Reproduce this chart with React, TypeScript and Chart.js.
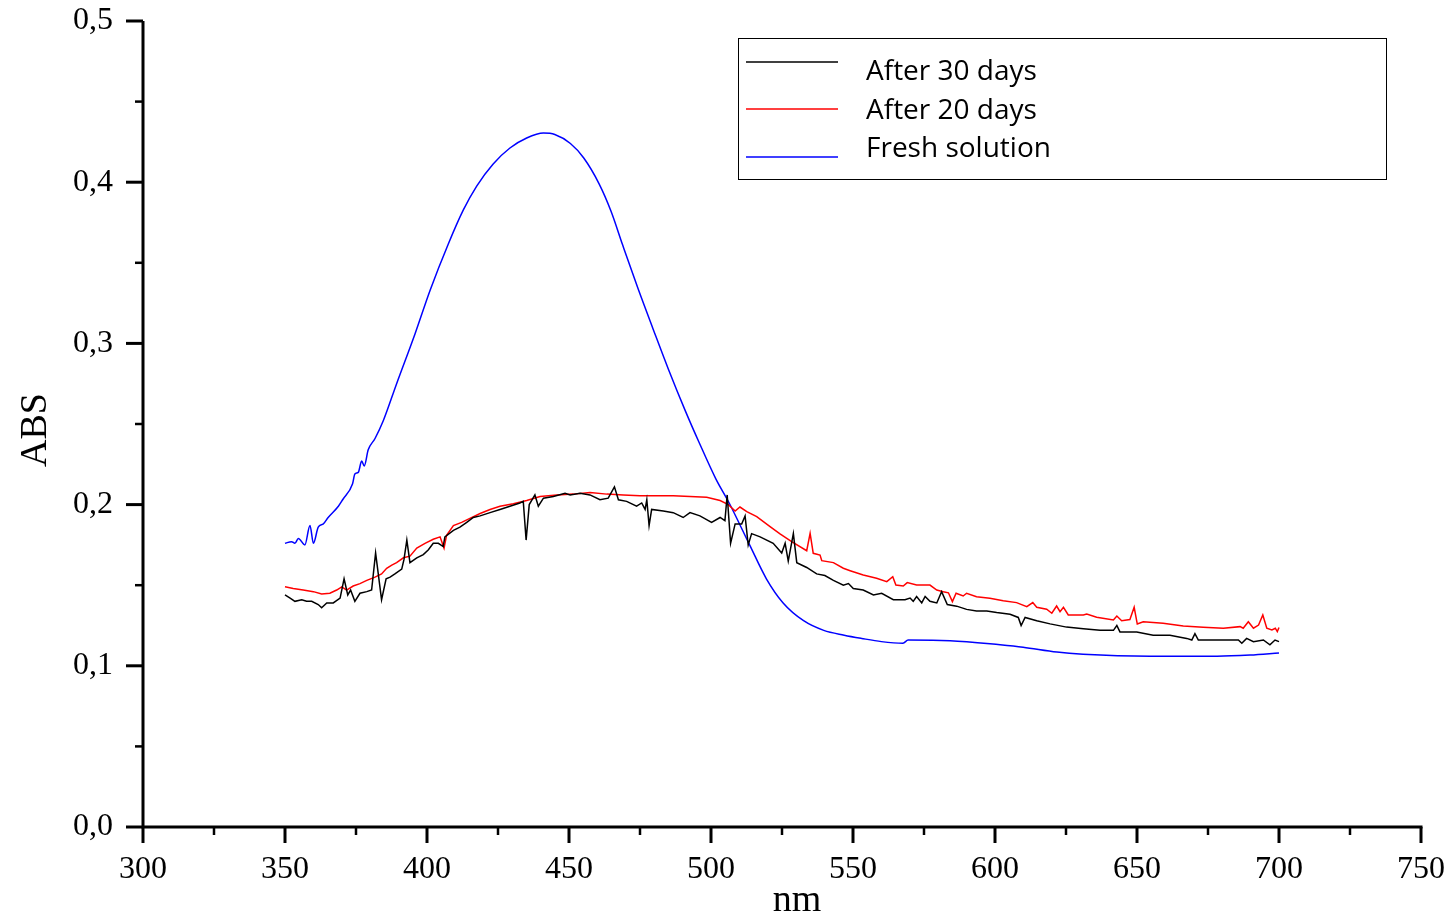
import { useEffect, useRef } from 'react';
import { Chart, registerables } from 'chart.js';

Chart.register(...registerables);

// ---- Data ----
const freshNm = [350.0, 352.3, 353.5, 354.7, 357.0, 358.8, 360.0, 361.7, 363.5, 365.2, 368.8, 370.3, 373.8, 374.6, 375.8, 377.0, 377.9, 379.3, 381.7, 384.6, 389.3, 395.8, 401.1, 407.5, 412.8, 417.5, 423.3, 429.2, 435.1, 441.0, 445.0, 450.5, 455.2, 460.6, 464.8, 468.9, 474.3, 479.6, 485.0, 491.0, 495.7, 501.7, 506.4, 513.6, 519.5, 525.4, 532.6, 539.7, 546.9, 553.0, 560.0, 567.6, 569.4, 584.2, 601.8, 609.9, 621.8, 631.0, 654.6, 678.2, 689.8, 700.0];
const freshAbs = [0.176, 0.177, 0.176, 0.179, 0.175, 0.187, 0.176, 0.186, 0.188, 0.192, 0.199, 0.203, 0.213, 0.219, 0.220, 0.227, 0.224, 0.234, 0.241, 0.252, 0.275, 0.306, 0.333, 0.3617, 0.3828, 0.3976, 0.4113, 0.4212, 0.4274, 0.4305, 0.4296, 0.424, 0.415, 0.399, 0.382, 0.361, 0.334, 0.309, 0.284, 0.258, 0.239, 0.216, 0.201, 0.175, 0.154, 0.139, 0.128, 0.122, 0.119, 0.117, 0.115, 0.114, 0.116, 0.1156, 0.113, 0.1115, 0.1085, 0.1072, 0.106, 0.106, 0.1067, 0.108];

const day30Nm = [350.0, 351.8, 353.5, 355.9, 357.6, 359.4, 361.7, 362.9, 364.7, 367.0, 369.4, 370.8, 372.1, 373.1, 374.6, 376.4, 378.8, 380.5, 381.9, 384.0, 385.6, 387.0, 388.7, 391.1, 391.9, 392.9, 394.0, 396.4, 398.7, 400.5, 402.2, 404.0, 405.7, 406.3, 409.3, 411.6, 414.0, 416.3, 418.7, 422.2, 425.7, 429.2, 432.7, 433.9, 434.9, 436.0, 438.0, 439.2, 441.0, 444.5, 448.6, 450.4, 453.9, 457.4, 460.9, 463.8, 466.0, 467.4, 470.3, 473.8, 475.6, 476.8, 477.4, 478.2, 479.1, 483.2, 486.7, 490.2, 492.6, 496.1, 500.2, 503.2, 504.9, 505.7, 506.9, 508.5, 510.8, 512.0, 513.1, 514.3, 517.3, 521.9, 524.9, 526.1, 527.2, 529.0, 530.2, 533.7, 537.2, 540.1, 543.1, 546.6, 548.4, 550.1, 553.6, 557.2, 560.1, 564.2, 568.3, 570.1, 571.2, 572.4, 574.2, 575.4, 577.1, 579.5, 581.2, 583.2, 586.5, 590.0, 593.5, 597.1, 600.6, 605.3, 608.2, 609.2, 610.6, 614.7, 619.4, 625.2, 631.1, 637.0, 641.7, 642.9, 644.0, 649.9, 655.7, 661.6, 667.5, 669.3, 670.4, 671.6, 675.7, 681.6, 685.7, 686.9, 688.6, 691.0, 694.5, 696.8, 698.6, 700.0];
const day30Abs = [0.144, 0.142, 0.140, 0.141, 0.140, 0.140, 0.138, 0.136, 0.139, 0.139, 0.142, 0.154, 0.144, 0.147, 0.140, 0.145, 0.146, 0.147, 0.170, 0.141, 0.154, 0.155, 0.157, 0.160, 0.166, 0.178, 0.164, 0.167, 0.169, 0.172, 0.176, 0.176, 0.174, 0.180, 0.184, 0.186, 0.189, 0.192, 0.193, 0.195, 0.197, 0.199, 0.201, 0.202, 0.178, 0.200, 0.206, 0.199, 0.204, 0.205, 0.207, 0.206, 0.207, 0.206, 0.203, 0.204, 0.211, 0.203, 0.202, 0.199, 0.201, 0.197, 0.203, 0.187, 0.197, 0.196, 0.195, 0.192, 0.195, 0.193, 0.189, 0.192, 0.190, 0.206, 0.176, 0.188, 0.188, 0.193, 0.175, 0.182, 0.180, 0.176, 0.170, 0.176, 0.165, 0.182, 0.164, 0.161, 0.157, 0.156, 0.153, 0.150, 0.151, 0.148, 0.147, 0.144, 0.145, 0.141, 0.141, 0.142, 0.140, 0.143, 0.139, 0.143, 0.140, 0.139, 0.146, 0.138, 0.137, 0.135, 0.134, 0.134, 0.133, 0.132, 0.130, 0.125, 0.130, 0.128, 0.126, 0.124, 0.123, 0.122, 0.122, 0.125, 0.121, 0.121, 0.119, 0.119, 0.117, 0.116, 0.120, 0.116, 0.116, 0.116, 0.116, 0.114, 0.117, 0.115, 0.116, 0.113, 0.116, 0.115];

const day20Nm = [350.0, 352.9, 356.4, 360.0, 362.9, 365.8, 368.2, 370.0, 371.7, 374.0, 376.4, 378.8, 381.7, 384.0, 385.8, 387.6, 389.3, 391.7, 394.0, 396.4, 399.3, 402.2, 404.6, 406.0, 406.9, 409.3, 412.2, 415.1, 418.7, 422.2, 425.7, 430.4, 435.1, 439.8, 445.7, 451.5, 457.4, 463.3, 469.1, 475.0, 480.9, 486.7, 492.6, 498.5, 503.2, 506.1, 508.5, 510.2, 512.6, 516.1, 520.8, 524.3, 528.4, 533.7, 534.9, 536.0, 538.4, 539.0, 543.1, 546.6, 549.0, 553.6, 558.3, 561.9, 564.0, 565.1, 567.7, 569.1, 572.4, 577.1, 579.5, 581.8, 583.6, 585.0, 586.3, 588.8, 590.0, 593.5, 598.2, 602.9, 607.6, 611.2, 613.3, 614.7, 618.2, 620.0, 621.7, 622.9, 624.1, 625.8, 631.1, 632.3, 635.8, 641.7, 642.9, 644.6, 647.5, 649.0, 650.1, 652.2, 659.2, 666.3, 673.3, 680.4, 686.3, 687.4, 689.2, 691.0, 692.8, 694.3, 695.7, 697.5, 698.7, 699.4, 700.0];
const day20Abs = [0.149, 0.148, 0.147, 0.146, 0.1445, 0.145, 0.147, 0.149, 0.147, 0.1495, 0.151, 0.153, 0.155, 0.157, 0.1605, 0.1625, 0.164, 0.167, 0.168, 0.173, 0.176, 0.1785, 0.180, 0.173, 0.181, 0.187, 0.189, 0.1915, 0.1945, 0.197, 0.199, 0.2005, 0.2025, 0.205, 0.206, 0.2065, 0.2075, 0.2065, 0.206, 0.2055, 0.2055, 0.2055, 0.205, 0.2045, 0.2025, 0.200, 0.196, 0.1985, 0.1956, 0.1925, 0.1863, 0.1818, 0.177, 0.1714, 0.1822, 0.1698, 0.1687, 0.1652, 0.164, 0.1605, 0.159, 0.1563, 0.1543, 0.1522, 0.1553, 0.1501, 0.1495, 0.1516, 0.1501, 0.1501, 0.147, 0.146, 0.1453, 0.1398, 0.145, 0.1433, 0.145, 0.1429, 0.1419, 0.1404, 0.1392, 0.1367, 0.1392, 0.1363, 0.1351, 0.1326, 0.1371, 0.1336, 0.1363, 0.1315, 0.1315, 0.1321, 0.1301, 0.1284, 0.1309, 0.128, 0.1287, 0.1363, 0.1259, 0.1273, 0.1264, 0.1247, 0.1239, 0.1233, 0.1243, 0.1233, 0.1273, 0.1233, 0.1253, 0.1315, 0.1233, 0.1222, 0.1233, 0.1212, 0.1238];

const seriesNames = ['After 30 days', 'After 20 days', 'Fresh solution'];
const seriesColors = ['#000000', '#ff0000', '#0000ff'];

const xTickValues = [300, 350, 400, 450, 500, 550, 600, 650, 700, 750];
const yTickLabels = ['0,0', '0,1', '0,2', '0,3', '0,4', '0,5'];
const xTitle = 'nm';
const yTitle = 'ABS';

const SERIF = '"Liberation Serif", "Times New Roman", serif';
const SANS = '"Open Sans", "Noto Sans", sans-serif';

const zip = (xs: number[], ys: number[]) => xs.map((x, i) => ({ x, y: ys[i] }));

const decorPlugin = {
  id: 'decor',
  afterDraw(chart: any) {
    const { ctx, chartArea } = chart;
    const { left, right, top, bottom } = chartArea;
    const xs = chart.scales.x;
    const ys = chart.scales.y;
    ctx.save();
    ctx.strokeStyle = '#000';
    ctx.lineCap = 'butt';
    // axis lines
    ctx.lineWidth = 3;
    ctx.beginPath();
    ctx.moveTo(left, top);
    ctx.lineTo(left, bottom + 1.5);
    ctx.moveTo(left - 1.5, bottom);
    ctx.lineTo(right + 1.5, bottom);
    ctx.stroke();
    // x ticks (major + minor)
    for (let v = xTickValues[0]; v <= xTickValues[xTickValues.length - 1]; v += 25) {
      const px = xs.getPixelForValue(v);
      const major = v % 50 === 0;
      ctx.lineWidth = major ? 3 : 2.5;
      ctx.beginPath();
      ctx.moveTo(px, bottom);
      ctx.lineTo(px, bottom + (major ? 16 : 8));
      ctx.stroke();
    }
    // y ticks (major + minor)
    for (let i = 0; i <= 10; i++) {
      const py = ys.getPixelForValue(i * 0.05);
      const major = i % 2 === 0;
      ctx.lineWidth = major ? 3 : 2.5;
      ctx.beginPath();
      ctx.moveTo(left, py);
      ctx.lineTo(left - (major ? 17 : 8), py);
      ctx.stroke();
    }
    // axis titles
    ctx.fillStyle = '#000';
    ctx.font = `38px ${SERIF}`;
    ctx.textAlign = 'center';
    ctx.textBaseline = 'alphabetic';
    ctx.fillText(xTitle, (left + right) / 2 + 15, 911);
    ctx.save();
    ctx.translate(46, (top + bottom) / 2 + 6);
    ctx.rotate(-Math.PI / 2);
    ctx.fillText(yTitle, 0, 0);
    ctx.restore();

    // legend box
    ctx.lineWidth = 1;
    ctx.strokeStyle = '#000';
    ctx.strokeRect(738.5, 38.5, 648, 141);
    const lineYs = [62, 109, 157];
    const textYs = [80, 119, 157];
    ctx.font = `28px ${SANS}`;
    ctx.textAlign = 'left';
    for (let i = 0; i < 3; i++) {
      ctx.strokeStyle = seriesColors[i];
      ctx.lineWidth = 1.5;
      ctx.beginPath();
      ctx.moveTo(746, lineYs[i]);
      ctx.lineTo(838, lineYs[i]);
      ctx.stroke();
      ctx.fillStyle = '#000';
      ctx.fillText(seriesNames[i], 866, textYs[i]);
    }
    ctx.restore();
  },
};

export default function App() {
  const ref = useRef<HTMLCanvasElement | null>(null);
  useEffect(() => {
    if (!ref.current) return;
    const chart = new Chart(ref.current, {
      type: 'line',
      data: {
        datasets: [
          {
            label: seriesNames[0],
            data: zip(day30Nm, day30Abs),
            borderColor: seriesColors[0],
            borderWidth: 1.5,
            pointRadius: 0,
            tension: 0,
          },
          {
            label: seriesNames[1],
            data: zip(day20Nm, day20Abs),
            borderColor: seriesColors[1],
            borderWidth: 1.5,
            pointRadius: 0,
            tension: 0,
          },
          {
            label: seriesNames[2],
            data: zip(freshNm, freshAbs),
            borderColor: seriesColors[2],
            borderWidth: 1.5,
            pointRadius: 0,
            cubicInterpolationMode: 'monotone',
          },
        ],
      },
      options: {
        animation: false,
        responsive: false,
        events: [],
        layout: { padding: { left: 0, top: 21, right: 26, bottom: 0 } },
        plugins: { legend: { display: false }, tooltip: { enabled: false } },
        scales: {
          x: {
            type: 'linear',
            min: 300,
            max: 750,
            afterFit: (s: any) => { s.height = 91; s.paddingLeft = 0; s.paddingRight = 0; },
            afterBuildTicks: (s: any) => { s.ticks = xTickValues.map((v) => ({ value: v })); },
            grid: { display: false, drawTicks: false },
            border: { display: false },
            ticks: {
              padding: 23,
              color: '#000',
              font: { family: SERIF, size: 32 },
              maxRotation: 0,
              autoSkip: false,
              callback: (v: any) => String(v),
            },
          },
          y: {
            type: 'linear',
            min: 0,
            max: 0.5,
            afterFit: (s: any) => { s.width = 143; s.paddingTop = 0; s.paddingBottom = 0; },
            afterBuildTicks: (s: any) => { s.ticks = yTickLabels.map((_, i) => ({ value: i * 0.1 })); },
            grid: { display: false, drawTicks: false },
            border: { display: false },
            ticks: {
              padding: 30,
              color: '#000',
              font: { family: SERIF, size: 32 },
              autoSkip: false,
              callback: (_v: any, i: number) => yTickLabels[i],
            },
          },
        },
      },
      plugins: [decorPlugin],
    });
    return () => chart.destroy();
  }, []);
  return (
    <div style={{ position: 'fixed', left: 0, top: 0, width: 1447, height: 918, background: '#fff' }}>
      <canvas ref={ref} width={1447} height={918} style={{ display: 'block' }} />
    </div>
  );
}
